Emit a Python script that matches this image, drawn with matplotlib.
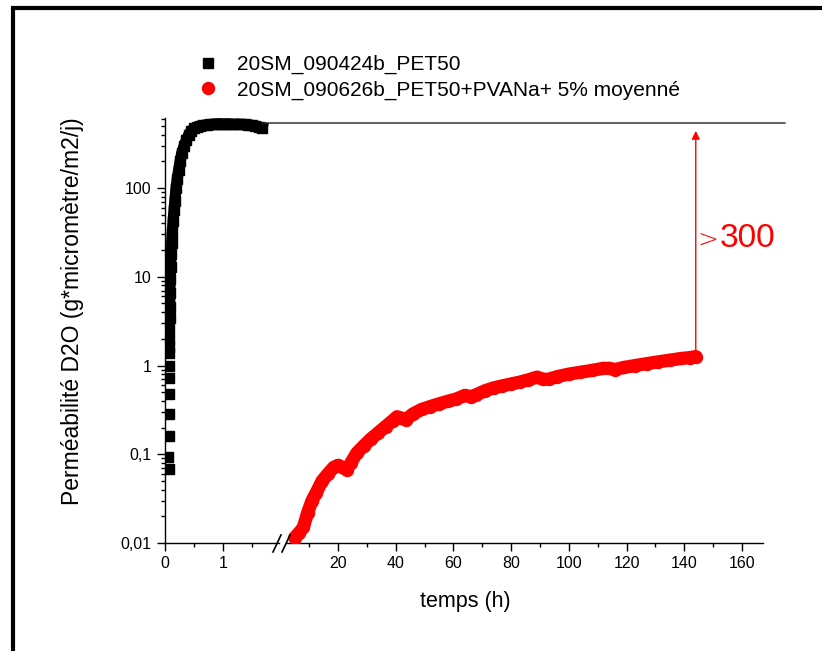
import matplotlib
matplotlib.use("Agg")
import matplotlib.pyplot as plt
from matplotlib.lines import Line2D
from matplotlib.patches import ConnectionPatch
from matplotlib.ticker import FixedLocator, LogLocator, NullFormatter, FixedFormatter

plt.rcParams['font.family'] = ['Liberation Sans', 'DejaVu Sans']

# PET50 reference film: first sparse readings, then the continuous record
pet_early_t = [0.045, 0.068, 0.069, 0.070, 0.070, 0.071, 0.071, 0.072]
pet_early_p = [0.094, 0.068, 0.159, 0.284, 0.476, 0.72, 1.0, 1.38]
pet_t = [0.072, 0.074, 0.076, 0.078, 0.081, 0.085, 0.090, 0.097, 0.105, 0.115,
         0.125, 0.14, 0.155, 0.17, 0.19, 0.21, 0.235, 0.26, 0.29, 0.33,
         0.37, 0.41, 0.45, 0.50, 0.55, 0.60, 0.66, 0.72, 0.78, 0.84,
         0.90, 0.96, 1.02, 1.08, 1.14, 1.20, 1.26, 1.32, 1.38, 1.44,
         1.50, 1.56, 1.62, 1.68]
pet_p = [1.6, 2.0, 2.6, 3.4, 4.6, 6.5, 9.5, 13, 18, 24,
         31, 43, 56, 72, 100, 125, 160, 200, 250, 300,
         350, 400, 440, 470, 490, 500, 510, 515, 520, 525,
         530, 530, 525, 530, 525, 520, 525, 520, 520, 515,
         510, 500, 490, 480]

# PET50 + PVANa 5 %, averaged curve
pva_t = [5.0, 6.5, 8.0, 9.5, 11, 12.5, 14.5, 16.5, 18.5, 20.0,
         21.5, 23.0, 24.5, 26.5, 29, 31.5, 34, 36.5, 39, 40.5,
         42, 43.5, 46, 49, 52, 55, 58, 61, 64, 66,
         68, 71, 74, 77, 80, 83, 86, 89, 91, 93,
         96, 100, 104, 108, 112, 114, 116, 119, 123, 127,
         131, 135, 139, 142, 144]
pva_p = [0.0115, 0.013, 0.015, 0.022, 0.030, 0.037, 0.050, 0.060, 0.071, 0.075,
         0.071, 0.067, 0.080, 0.103, 0.125, 0.150, 0.175, 0.205, 0.24, 0.265,
         0.255, 0.245, 0.285, 0.32, 0.345, 0.37, 0.395, 0.42, 0.46, 0.445,
         0.47, 0.52, 0.56, 0.59, 0.62, 0.65, 0.69, 0.74, 0.70, 0.70,
         0.75, 0.80, 0.84, 0.88, 0.93, 0.93, 0.90, 0.95, 1.0, 1.05,
         1.10, 1.15, 1.20, 1.23, 1.26]

label_pet = "20SM_090424b_PET50"
label_pva = "20SM_090626b_PET50+PVANa+ 5% moyenné"

y_ticks = [0.01, 0.1, 1, 10, 100]
y_ticklabels = ["0,01", "0,1", "1", "10", "100"]
x_left_ticks = [0, 1]
x_left_minor = [0.5, 1.5]
x_right_ticks = [20, 40, 60, 80, 100, 120, 140, 160]
x_right_minor = [10, 30, 50, 70, 90, 110, 130, 150]

x_left_range = (0, 1.97)
x_right_range = (2, 167.3)
y_range = (0.01, 615)

plateau = 540          # level reached by the reference film
arrow_tip = 440
line_end = 175
gain_sign = ">"
gain_value = "300"
gain_level = 21.6

W, H = 822, 651
fig = plt.figure(figsize=(W / 100, H / 100), dpi=100)


def px_box(x0, x1, y_top, y_bot):
    return [x0 / W, 1 - y_bot / H, (x1 - x0) / W, (y_bot - y_top) / H]


ax1 = fig.add_axes(px_box(165, 279, 118, 543))
ax2 = fig.add_axes(px_box(286, 763, 118, 543), sharey=ax1)

for ax in (ax1, ax2):
    ax.set_yscale('log')
    ax.set_ylim(*y_range)
    for s in ('top', 'right'):
        ax.spines[s].set_visible(False)
    for s in ax.spines.values():
        s.set_linewidth(1.0)
    ax.tick_params(which='major', direction='out', length=5.5, width=1.0,
                   labelsize=11.5, pad=4)
    ax.tick_params(which='minor', direction='out', length=3, width=1.0)

ax2.spines['left'].set_visible(False)
ax2.tick_params(axis='y', which='both', left=False, labelleft=False)

ax1.yaxis.set_major_locator(FixedLocator(y_ticks))
ax1.yaxis.set_major_formatter(FixedFormatter(y_ticklabels))
ax1.yaxis.set_minor_locator(LogLocator(base=10, subs=range(2, 10)))
ax1.yaxis.set_minor_formatter(NullFormatter())

ax1.set_xlim(*x_left_range)
ax1.xaxis.set_major_locator(FixedLocator(x_left_ticks))
ax1.xaxis.set_minor_locator(FixedLocator(x_left_minor))
ax2.set_xlim(*x_right_range)
ax2.xaxis.set_major_locator(FixedLocator(x_right_ticks))
ax2.xaxis.set_minor_locator(FixedLocator(x_right_minor))

# reference film
ax1.plot(pet_t, pet_p, color='black', lw=8, solid_capstyle='projecting',
         solid_joinstyle='round', zorder=3)
h_pet, = ax1.plot(pet_early_t + pet_t, pet_early_p + pet_p, ls='none',
                  marker='s', ms=6.5, mfc='black', mec='black', zorder=3,
                  label=label_pet)

# coated film
ax2.plot(pva_t, pva_p, color='red', lw=9.5, solid_capstyle='round',
         solid_joinstyle='round', zorder=3)
h_pva, = ax2.plot(pva_t, pva_p, ls='none', marker='o', ms=8.6,
                  mfc='red', mec='red', zorder=3, label=label_pva)

# plateau line running across the break
con = ConnectionPatch(xyA=(pet_t[-1], plateau), coordsA=ax1.transData,
                      xyB=(line_end, plateau), coordsB=ax2.transData,
                      color='#222222', lw=1.0)
fig.add_artist(con)

# improvement arrow and label
ax2.annotate('', xy=(pva_t[-1], arrow_tip), xytext=(pva_t[-1], pva_p[-1]),
             arrowprops=dict(arrowstyle='-|>', color='red', lw=1.0,
                             mutation_scale=12, shrinkA=0, shrinkB=0))
ax2.annotate(gain_sign, xy=(pva_t[-1], gain_level), xytext=(1.5, -0.5),
             textcoords='offset points', ha='left', va='baseline',
             color='red', fontsize=18, fontfamily='DejaVu Sans',
             fontweight='ultralight')
ax2.annotate(gain_value, xy=(pva_t[-1], gain_level), xytext=(17.5, 0),
             textcoords='offset points', ha='left', va='baseline',
             color='red', fontsize=24)

# axis break marks
tr = fig.transFigure
for xc in (277, 286):
    fig.add_artist(Line2D([(xc - 4) / W, (xc + 4) / W],
                          [1 - 552 / H, 1 - 535 / H], color='black',
                          lw=1.2, transform=tr))

# axis titles
fig.text(465 / W, 1 - 601 / H, "temps (h)", ha='center', va='center',
         fontsize=15.5)
fig.text(73 / W, 1 - 311 / H, "Perméabilité D2O (g*micromètre/m2/j)",
         ha='center', va='center', rotation=90, fontsize=16.5)

fig.legend(handles=[h_pet, h_pva], labels=[label_pet, label_pva],
           loc='upper left', bbox_to_anchor=(197.5 / W, 1 - 55 / H),
           frameon=False, fontsize=15, handlelength=1.0,
           handletextpad=0.9, borderpad=0, borderaxespad=0,
           labelspacing=0.3)

# picture frame
fig.add_artist(Line2D([12.5 / W, 12.5 / W], [0, 1 - 7.5 / H], color='black',
                      lw=3, transform=tr, solid_capstyle='butt'))
fig.add_artist(Line2D([10.5 / W, 1], [1 - 7.5 / H, 1 - 7.5 / H],
                      color='black', lw=3, transform=tr,
                      solid_capstyle='butt'))

fig.savefig("out.png", dpi=100)
